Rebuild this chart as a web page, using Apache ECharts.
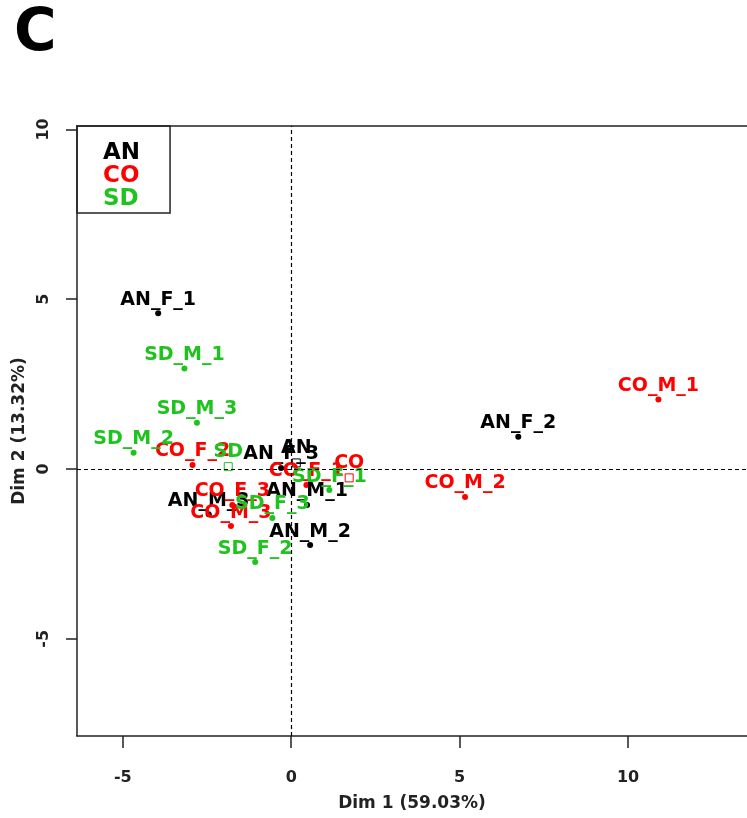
<!DOCTYPE html>
<html>
<head>
<meta charset="utf-8">
<script src="https://cdn.jsdelivr.net/npm/echarts@6/dist/echarts.min.js"></script>
<style>
  html, body { margin: 0; padding: 0; background: #fff; }
  #chart { width: 747px; height: 818px; }
</style>
</head>
<body>
<div id="chart"></div>
<script>
// individuals, one block per group
const anNames = ['AN_F_1', 'AN_F_2', 'AN_F_3', 'AN_M_1', 'AN_M_2', 'AN_M_3'];
const anDim1 = [-3.95, 6.74, -0.30, 0.47, 0.56, -2.45];
const anDim2 = [4.59, 0.95, 0.03, -1.06, -2.24, -1.33];

const coNames = ['CO_F_1', 'CO_F_2', 'CO_F_3', 'CO_M_1', 'CO_M_2', 'CO_M_3'];
const coDim1 = [0.45, -2.93, -1.75, 10.90, 5.16, -1.79];
const coDim2 = [-0.47, 0.12, -1.06, 2.05, -0.82, -1.68];

const sdNames = ['SD_F_1', 'SD_F_2', 'SD_F_3', 'SD_M_1', 'SD_M_2', 'SD_M_3'];
const sdDim1 = [1.13, -1.07, -0.56, -3.17, -4.68, -2.80];
const sdDim2 = [-0.62, -2.74, -1.44, 2.96, 0.48, 1.36];

// group centres (square markers)
const groups = ['AN', 'CO', 'SD'];
const groupDim1 = [0.15, 1.72, -1.87];
const groupDim2 = [0.18, -0.26, 0.07];

const groupColors = ['#000000', '#ff0000', '#1ec31e'];
const xTicks = [-5, 0, 5, 10];
const yTicks = [-5, 0, 5, 10];

const chart = echarts.init(document.getElementById('chart'));

const FONT = 'DejaVu Sans';
const X_MIN = -6.36, X_MAX = 13.53;

function points(names, d1, d2) {
  return names.map((n, i) => ({ name: n, value: [d1[i], d2[i]] }));
}

function labelStyle(color) {
  return {
    show: true,
    formatter: '{b}',
    position: 'top',
    distance: 1,
    color: color,
    fontFamily: FONT,
    fontWeight: 'bold',
    fontSize: 19
  };
}

function indivSeries(name, data, color) {
  return {
    name: name,
    type: 'scatter',
    symbol: 'circle',
    symbolSize: 6,
    itemStyle: { color: color, opacity: 1 },
    label: labelStyle(color),
    data: data
  };
}

const series = [
  indivSeries('AN', points(anNames, anDim1, anDim2), groupColors[0]),
  indivSeries('CO', points(coNames, coDim1, coDim2), groupColors[1]),
  indivSeries('SD', points(sdNames, sdDim1, sdDim2), groupColors[2])
];

// dashed lines through the origin
series[0].markLine = {
  silent: true,
  symbol: ['none', 'none'],
  label: { show: false },
  lineStyle: { color: '#000', type: [4, 3], width: 1.2, opacity: 1 },
  data: [{ xAxis: 0 }, { yAxis: 0 }]
};

groups.forEach((g, i) => {
  series.push({
    name: g + '_centre',
    type: 'scatter',
    symbol: 'rect',
    symbolSize: 8,
    itemStyle: { color: 'rgba(0,0,0,0)', borderColor: groupColors[i], borderWidth: 1, opacity: 1 },
    label: labelStyle(groupColors[i]),
    data: [{ name: g, value: [groupDim1[i], groupDim2[i]] }]
  });
});

const axisText = { fontFamily: FONT, fontWeight: 'bold', fontSize: 16, color: '#222' };
const frameLine = { show: true, onZero: false, lineStyle: { color: '#222', width: 1.5 } };

const options = {
  animation: false,
  backgroundColor: '#fff',
  graphic: [{
    type: 'text',
    left: 14,
    top: 6,
    style: { text: 'C', font: 'bold 58px "DejaVu Sans"', fill: '#000' }
  }],
  legend: {
    left: 77,
    top: 126,
    orient: 'vertical',
    itemWidth: 0,
    itemHeight: 0,
    itemGap: 0,
    padding: [16, 30, 2, 21],
    borderColor: '#222',
    borderWidth: 1.5,
    selectedMode: false,
    textStyle: { fontFamily: FONT, fontWeight: 'bold', fontSize: 23, lineHeight: 21 },
    data: groups.map((g, i) => ({ name: g, icon: 'rect', textStyle: { color: groupColors[i] } }))
  },
  grid: {
    left: 77,
    right: 0,
    top: 126,
    bottom: 82
  },
  xAxis: [{
    type: 'value',
    min: X_MIN,
    max: X_MAX,
    name: 'Dim 1 (59.03%)',
    nameLocation: 'middle',
    nameGap: 59,
    nameTextStyle: { fontFamily: FONT, fontWeight: 'bold', fontSize: 17, color: '#222' },
    axisLine: frameLine,
    splitLine: { show: false },
    axisTick: { show: true, length: 12, customValues: xTicks, lineStyle: { color: '#222', width: 1.5 } },
    axisLabel: Object.assign({ margin: 34, customValues: xTicks }, axisText)
  }, {
    // top edge of the frame
    type: 'value',
    position: 'top',
    min: X_MIN,
    max: X_MAX,
    axisLine: frameLine,
    axisTick: { show: false },
    axisLabel: { show: false },
    splitLine: { show: false }
  }],
  yAxis: {
    type: 'value',
    min: -7.86,
    max: 10.10,
    name: 'Dim 2 (13.32%)',
    nameLocation: 'middle',
    nameGap: 46,
    nameTextStyle: { fontFamily: FONT, fontWeight: 'bold', fontSize: 17, color: '#222' },
    axisLine: frameLine,
    splitLine: { show: false },
    axisTick: { show: true, length: 11, customValues: yTicks, lineStyle: { color: '#222', width: 1.5 } },
    axisLabel: Object.assign({ margin: 25, rotate: 90, customValues: yTicks }, axisText)
  },
  series: series
};

chart.setOption(options);
</script>
</body>
</html>
